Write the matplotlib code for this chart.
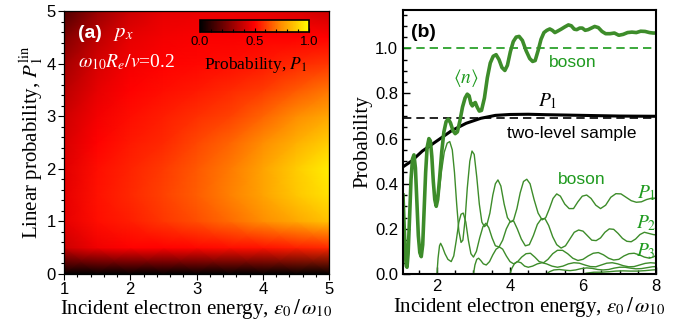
import matplotlib
matplotlib.use("Agg")
import matplotlib.pyplot as plt
from matplotlib.colors import LinearSegmentedColormap
from matplotlib.ticker import MultipleLocator, FormatStrFormatter
import numpy as np

plt.rcParams["font.family"] = ["Liberation Sans", "DejaVu Sans"]
plt.rcParams["mathtext.fontset"] = "stix"

SERIF = ["Liberation Serif", "DejaVu Serif"]
GREEN = "#3d8c2a"
GREEN_TXT = "#1f9a1f"

# ---- panel (a): P1 map, rows = heat_y, columns = heat_x
heat_x = [1.0, 1.5, 2.0, 2.5, 3.0, 3.5, 4.0, 4.5, 5.0]
heat_y = [0.0, 0.5, 1.0, 1.5, 2.0, 2.5, 3.0, 3.5, 4.0, 4.5, 5.0]
heat_p = [
    [0.00, 0.00, 0.00, 0.00, 0.00, 0.00, 0.00, 0.00, 0.00],
    [0.40, 0.47, 0.50, 0.50, 0.51, 0.52, 0.53, 0.55, 0.57],
    [0.45, 0.52, 0.55, 0.59, 0.63, 0.68, 0.74, 0.80, 0.86],
    [0.45, 0.53, 0.57, 0.61, 0.66, 0.72, 0.79, 0.87, 0.93],
    [0.44, 0.52, 0.56, 0.60, 0.65, 0.71, 0.79, 0.88, 0.96],
    [0.42, 0.50, 0.54, 0.57, 0.62, 0.67, 0.74, 0.82, 0.89],
    [0.40, 0.48, 0.52, 0.55, 0.58, 0.61, 0.67, 0.74, 0.80],
    [0.36, 0.45, 0.50, 0.52, 0.54, 0.57, 0.60, 0.65, 0.70],
    [0.32, 0.42, 0.48, 0.50, 0.51, 0.52, 0.54, 0.57, 0.59],
    [0.25, 0.37, 0.45, 0.48, 0.49, 0.49, 0.50, 0.50, 0.50],
    [0.15, 0.30, 0.40, 0.45, 0.46, 0.46, 0.45, 0.43, 0.40],
]

# ---- panel (b): curves
n_x = [1.07, 1.10, 1.13, 1.16, 1.18, 1.21, 1.25, 1.29, 1.33, 1.37, 1.41, 1.45, 1.49, 1.53,
       1.57, 1.61, 1.65, 1.69, 1.73, 1.78, 1.82, 1.86, 1.90, 1.94, 1.98,
       2.02, 2.07, 2.13, 2.19, 2.25, 2.31, 2.37, 2.44, 2.50, 2.56, 2.63, 2.70, 2.77, 2.83,
       2.88, 2.93, 2.97, 3.01, 3.05, 3.10, 3.16, 3.22, 3.30, 3.38, 3.46, 3.54, 3.62, 3.70,
       3.78, 3.86, 3.93, 4.01, 4.09, 4.17, 4.25, 4.34, 4.44, 4.54, 4.62, 4.69, 4.77, 4.85,
       4.93, 5.01, 5.09, 5.16, 5.23, 5.30, 5.40, 5.50, 5.60, 5.68, 5.76, 5.83, 5.91, 5.98,
       6.06, 6.14, 6.23, 6.32, 6.42, 6.52, 6.62, 6.74, 6.86, 6.98, 7.10, 7.22, 7.34, 7.46,
       7.58, 7.70, 7.82, 7.92, 8.00]
n_y = [0.35, 0.22, 0.10, 0.035, 0.03, 0.09, 0.25, 0.42, 0.51, 0.528, 0.47, 0.32, 0.17, 0.095,
       0.077, 0.13, 0.29, 0.45, 0.56, 0.60, 0.59, 0.52, 0.41, 0.33, 0.30,
       0.33, 0.42, 0.54, 0.63, 0.675, 0.687, 0.67, 0.635, 0.622, 0.63, 0.68, 0.74, 0.78, 0.797,
       0.79, 0.755, 0.745, 0.755, 0.76, 0.74, 0.722, 0.725, 0.78, 0.87, 0.935, 0.965, 0.972, 0.95,
       0.915, 0.902, 0.925, 0.985, 1.03, 1.05, 1.053, 1.035, 0.99, 0.955, 0.942, 0.946, 0.99, 1.04,
       1.07, 1.08, 1.086, 1.08, 1.07, 1.076, 1.085, 1.095, 1.104, 1.10, 1.085, 1.083, 1.09, 1.09,
       1.08, 1.083, 1.09, 1.097, 1.092, 1.075, 1.065, 1.065, 1.068, 1.058, 1.062, 1.07, 1.072, 1.07,
       1.076, 1.075, 1.07, 1.068, 1.068]

two_x = [1.07, 1.3, 1.6, 2.0, 2.4, 2.8, 3.2, 3.6, 4.0, 4.5, 5.0, 6.0, 7.0, 8.0]
two_y = [0.475, 0.50, 0.545, 0.59, 0.635, 0.668, 0.69, 0.703, 0.707, 0.708, 0.706, 0.703, 0.700, 0.699]

p1_x = [1.98, 2.05, 2.12, 2.20, 2.28, 2.35, 2.42, 2.48, 2.54, 2.60, 2.66, 2.71, 2.77, 2.83,
        2.90, 2.96, 3.02, 3.09, 3.16, 3.23, 3.30, 3.37, 3.45, 3.53, 3.60, 3.67, 3.75, 3.84,
        3.93, 4.02, 4.10, 4.19, 4.28, 4.37, 4.46, 4.55, 4.66, 4.77, 4.88, 4.98, 5.08, 5.18,
        5.28, 5.38, 5.50, 5.62, 5.74, 5.86, 5.98, 6.10, 6.22, 6.35, 6.48, 6.62, 6.76, 6.90,
        7.04, 7.18, 7.32, 7.46, 7.60, 7.74, 7.88, 8.00]
p1_y = [0.30, 0.35, 0.45, 0.54, 0.58, 0.587, 0.55, 0.45, 0.31, 0.19, 0.14, 0.15, 0.24, 0.38,
        0.50, 0.545, 0.53, 0.43, 0.31, 0.23, 0.21, 0.22, 0.27, 0.35, 0.40, 0.417, 0.39, 0.31,
        0.25, 0.23, 0.24, 0.29, 0.36, 0.41, 0.42, 0.40, 0.33, 0.27, 0.24, 0.25, 0.29, 0.335,
        0.355, 0.345, 0.31, 0.29, 0.29, 0.32, 0.345, 0.35, 0.335, 0.305, 0.29, 0.305, 0.34, 0.356,
        0.355, 0.34, 0.325, 0.318, 0.32, 0.33, 0.336, 0.336]

p2_x = [2.00, 2.03, 2.07, 2.10, 2.15, 2.22, 2.30, 2.39, 2.46, 2.53, 2.60, 2.66, 2.72, 2.79,
        2.86, 2.93, 3.00, 3.08, 3.17, 3.26, 3.34, 3.42, 3.51, 3.60, 3.70, 3.80, 3.90, 4.00,
        4.10, 4.20, 4.31, 4.42, 4.53, 4.64, 4.75, 4.86, 4.96, 5.06, 5.17, 5.28, 5.40, 5.52,
        5.64, 5.76, 5.88, 6.00, 6.12, 6.24, 6.36, 6.48, 6.60, 6.72, 6.84, 6.96, 7.08, 7.20,
        7.32, 7.44, 7.56, 7.68, 7.80, 7.92, 8.00]
p2_y = [0.00, 0.07, 0.125, 0.136, 0.12, 0.09, 0.065, 0.055, 0.08, 0.15, 0.23, 0.265, 0.27, 0.23,
        0.15, 0.09, 0.075, 0.10, 0.16, 0.21, 0.225, 0.205, 0.16, 0.125, 0.12, 0.15, 0.20, 0.232,
        0.235, 0.20, 0.155, 0.125, 0.13, 0.17, 0.22, 0.245, 0.245, 0.215, 0.165, 0.13, 0.115, 0.125,
        0.155, 0.185, 0.195, 0.19, 0.17, 0.15, 0.148, 0.16, 0.185, 0.20, 0.198, 0.18, 0.158, 0.145,
        0.143, 0.155, 0.175, 0.185, 0.18, 0.175, 0.173]

p3_x = [3.00, 3.04, 3.09, 3.14, 3.20, 3.27, 3.35, 3.44, 3.53, 3.62, 3.71, 3.80, 3.90, 4.00,
        4.10, 4.21, 4.32, 4.44, 4.56, 4.68, 4.80, 4.92, 5.04, 5.17, 5.30, 5.44, 5.58, 5.72,
        5.86, 6.00, 6.14, 6.28, 6.42, 6.56, 6.70, 6.84, 6.98, 7.12, 7.26, 7.40, 7.54, 7.68,
        7.82, 7.92, 8.00]
p3_y = [0.00, 0.04, 0.065, 0.07, 0.06, 0.045, 0.04, 0.055, 0.085, 0.11, 0.12, 0.11, 0.08, 0.055,
        0.045, 0.055, 0.075, 0.09, 0.092, 0.075, 0.055, 0.05, 0.065, 0.09, 0.105, 0.105, 0.09, 0.07,
        0.06, 0.065, 0.08, 0.092, 0.095, 0.085, 0.07, 0.062, 0.065, 0.08, 0.09, 0.092, 0.085, 0.075,
        0.07, 0.075, 0.082]

p4_x = [4.00, 4.05, 4.12, 4.20, 4.30, 4.40, 4.50, 4.62, 4.75, 4.88, 5.00, 5.15, 5.30, 5.45,
        5.60, 5.75, 5.90, 6.05, 6.20, 6.35, 6.50, 6.65, 6.80, 6.95, 7.10, 7.25, 7.40, 7.55,
        7.70, 7.85, 8.00]
p4_y = [0.00, 0.025, 0.045, 0.055, 0.05, 0.035, 0.03, 0.035, 0.045, 0.05, 0.045, 0.035, 0.03, 0.035,
        0.045, 0.05, 0.048, 0.04, 0.033, 0.032, 0.04, 0.048, 0.05, 0.045, 0.037, 0.032, 0.033, 0.04,
        0.047, 0.05, 0.048]

p5_x = [5.00, 5.08, 5.20, 5.35, 5.50, 5.65, 5.80, 5.95, 6.10, 6.25, 6.40, 6.55, 6.70, 6.85,
        7.00, 7.15, 7.30, 7.45, 7.60, 7.75, 7.90, 8.00]
p5_y = [0.00, 0.01, 0.018, 0.02, 0.017, 0.015, 0.018, 0.024, 0.027, 0.025, 0.02, 0.018, 0.02, 0.026,
        0.03, 0.03, 0.026, 0.023, 0.024, 0.028, 0.032, 0.033]

p6_x = [6.00, 6.10, 6.30, 6.50, 6.70, 6.90, 7.10, 7.30, 7.50, 7.70, 7.90, 8.00]
p6_y = [0.00, 0.004, 0.008, 0.008, 0.010, 0.013, 0.014, 0.013, 0.013, 0.015, 0.018, 0.019]

boson_level = 1.0
two_level = 0.69

fig = plt.figure(figsize=(6.78, 3.28), dpi=100)

# ---------------- (a)
axa = fig.add_axes([0.0944, 0.1646, 0.3909, 0.8019])
cmap = LinearSegmentedColormap.from_list(
    "p1", [(0.0, "#000000"), (0.5, "#ff0000"), (0.74, "#ff8c00"), (1.0, "#ffff00")])
mesh = axa.pcolormesh(heat_x, heat_y, np.array(heat_p), cmap=cmap, vmin=0, vmax=1,
                      shading="gouraud", rasterized=True)
axa.set_xlim(1, 5)
axa.set_ylim(0, 5)
axa.xaxis.set_major_locator(MultipleLocator(1))
axa.xaxis.set_minor_locator(MultipleLocator(0.2))
axa.yaxis.set_major_locator(MultipleLocator(1))
axa.yaxis.set_minor_locator(MultipleLocator(0.2))
axa.tick_params(which="both", direction="out", labelsize=12, width=0.8, pad=2)
axa.tick_params(which="major", length=4)
axa.tick_params(which="minor", length=2.5)
for s in axa.spines.values():
    s.set_linewidth(0.9)
axa.set_xlabel(r"Incident electron energy, $\varepsilon_0\,/\,\omega_{10}$",
               family=SERIF, fontsize=15, labelpad=0)
axa.set_ylabel(r"Linear probability, $P_1^{\rm lin}$", family=SERIF, fontsize=15, labelpad=1)

axa.text(0.053, 0.914, "(a)", transform=axa.transAxes, color="white",
         fontsize=14, fontweight="bold", va="center")
axa.text(0.185, 0.914, r"$p_x$", transform=axa.transAxes, color="white",
         fontsize=15, va="center")
axa.text(0.053, 0.806, r"$\omega_{10}R_e/v$=0.2", transform=axa.transAxes, color="white",
         fontsize=14, va="center", family=SERIF)

cax = axa.inset_axes([0.513, 0.921, 0.412, 0.045])
cb = fig.colorbar(mesh, cax=cax, orientation="horizontal")
cb.set_ticks([0.0, 0.5, 1.0])
cb.ax.set_xticklabels(["0.0", "0.5", "1.0"])
cb.ax.xaxis.set_minor_locator(MultipleLocator(0.1))
cb.ax.tick_params(which="both", direction="in", labelsize=9.5, pad=3, width=0.8)
cb.ax.tick_params(which="major", length=3)
cb.ax.tick_params(which="minor", length=2)
cb.outline.set_linewidth(1.2)
axa.text(0.92, 0.795, r"Probability, $P_1$", transform=axa.transAxes, ha="right",
         va="center", fontsize=12.5, family=SERIF)

# ---------------- (b)
axb = fig.add_axes([0.5944, 0.1646, 0.3732, 0.8049])
axb.axhline(boson_level, color="#1a9a1a", lw=1.2, dashes=(5, 3))
axb.axhline(two_level, color="black", lw=1.2, dashes=(5, 3))
for xs, ys in [(p1_x, p1_y), (p2_x, p2_y), (p3_x, p3_y), (p4_x, p4_y),
               (p5_x, p5_y), (p6_x, p6_y)]:
    axb.plot(xs, ys, color=GREEN, lw=1.0)
axb.plot(two_x, two_y, color="black", lw=2.2)
axb.plot(n_x, n_y, color=GREEN, lw=2.6)

axb.set_xlim(1.07, 8)
axb.set_ylim(0, 1.17)
axb.xaxis.set_major_locator(MultipleLocator(2))
axb.xaxis.set_minor_locator(MultipleLocator(0.5))
axb.yaxis.set_major_locator(MultipleLocator(0.2))
axb.yaxis.set_minor_locator(MultipleLocator(0.05))
axb.yaxis.set_major_formatter(FormatStrFormatter("%.1f"))
axb.tick_params(which="both", direction="in", labelsize=12, width=1.0)
axb.tick_params(which="major", length=5)
axb.tick_params(which="minor", length=3)
for s in axb.spines.values():
    s.set_linewidth(1.5)
axb.set_xlabel(r"Incident electron energy, $\varepsilon_0\,/\,\omega_{10}$",
               family=SERIF, fontsize=15, labelpad=1)
axb.set_ylabel("Probability", family=SERIF, fontsize=15, labelpad=2)

axb.text(1.30, 1.07, "(b)", fontsize=14, fontweight="bold", va="center")
axb.text(2.79, 0.87, r"$\langle n\rangle$", color=GREEN_TXT, fontsize=14,
         ha="center", va="center")
axb.text(5.73, 0.937, "boson", color=GREEN_TXT, fontsize=12.5, ha="center", va="center")
axb.text(5.04, 0.765, r"$P_1$", fontsize=14, ha="center", va="center")
axb.text(5.70, 0.624, "two-level sample", fontsize=12.5, ha="center", va="center")
axb.text(5.96, 0.417, "boson", color=GREEN_TXT, fontsize=12.5, ha="center", va="center")
axb.text(7.73, 0.36, r"$P_1$", color=GREEN_TXT, fontsize=14, ha="center", va="center")
axb.text(7.73, 0.225, r"$P_2$", color=GREEN_TXT, fontsize=14, ha="center", va="center")
axb.text(7.73, 0.1, r"$P_3$", color=GREEN_TXT, fontsize=14, ha="center", va="center")

fig.savefig("out.png", dpi=100)
